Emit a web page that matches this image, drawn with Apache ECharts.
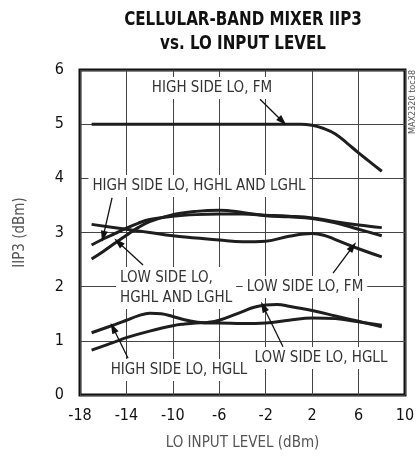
<!DOCTYPE html>
<html>
<head>
<meta charset="utf-8">
<script src="https://cdn.jsdelivr.net/npm/echarts@6/dist/echarts.min.js"></script>
<style>
  html, body { margin: 0; padding: 0; background: #fff; }
  #chart { width: 418px; height: 457px; }
</style>
</head>
<body>
<div id="chart"></div>
<script>
// LO input level (dBm) sample points and IIP3 (dBm) per curve
const highFmX   = [-17, -14, -10, -6, -2, 0, 1, 2, 3, 4, 5, 6, 7, 8];
const highFmY   = [5.0, 5.0, 5.0, 5.0, 5.0, 5.0, 5.0, 4.98, 4.92, 4.82, 4.65, 4.47, 4.3, 4.13];

const highHghlX = [-17, -16, -15, -14, -13, -12, -10, -8, -6, -4, -2, 0, 2, 4, 6, 8];
const highHghlY = [2.77, 2.88, 2.98, 3.08, 3.17, 3.24, 3.3, 3.33, 3.34, 3.34, 3.32, 3.3, 3.27, 3.2, 3.14, 3.09];

const lowHghlX  = [-17, -16, -15, -14, -13, -12, -10, -8, -6, -4, -2, 0, 2, 4, 6, 8];
const lowHghlY  = [2.51, 2.65, 2.8, 2.95, 3.09, 3.2, 3.33, 3.39, 3.41, 3.37, 3.31, 3.29, 3.26, 3.18, 3.06, 2.94];

const lowFmX    = [-17, -14, -12, -10, -8, -6, -4, -2, 0, 2, 3, 4, 6, 8];
const lowFmY    = [3.15, 3.06, 3.0, 2.94, 2.9, 2.86, 2.83, 2.84, 2.93, 2.98, 2.95, 2.87, 2.7, 2.55];

const highHgllX = [-17, -15, -14, -13, -12, -11, -10, -9, -8, -7, -6, -4, -2, 0, 2, 4, 6, 8];
const highHgllY = [1.15, 1.3, 1.38, 1.46, 1.51, 1.5, 1.45, 1.39, 1.35, 1.33, 1.33, 1.32, 1.33, 1.38, 1.42, 1.41, 1.35, 1.29];

const lowHgllX  = [-17, -15, -14, -12, -10, -9, -8, -7, -6, -4, -3, -2, -1, 0, 2, 4, 6, 8];
const lowHgllY  = [0.83, 0.98, 1.06, 1.18, 1.28, 1.31, 1.33, 1.34, 1.38, 1.54, 1.62, 1.66, 1.67, 1.64, 1.56, 1.46, 1.36, 1.26];

// axis tick labels
const xTicks = [-18, -14, -10, -6, -2, 2, 6, 10];
const yTicks = [0, 1, 2, 3, 4, 5, 6];

// callout arrows: [fromX, fromY, tipX, tipY] in axis units
const arrowHighFm   = [-2.49, 5.46, -0.55, 5.05];
const arrowHighHghl = [-15.24, 3.64, -16.0, 2.93];
const arrowLowHghl  = [-12.57, 2.40, -14.7, 2.82];
const arrowLowFm    = [3.80, 2.25, 5.5, 2.74];
const arrowHighHgll = [-13.86, 0.68, -15.15, 1.24];
const arrowLowHgll  = [-0.51, 0.89, -2.2, 1.63];

const FONT = '"Liberation Sans Narrow", "DejaVu Sans Condensed", "Liberation Sans", sans-serif';
const LINE = '#1e1e1e';

function pairs(xs, ys) { return xs.map((x, i) => [x, ys[i]]); }

function curve(name, xs, ys) {
  return {
    name: name, type: 'line', smooth: 0.4, showSymbol: false, symbol: 'none',
    data: pairs(xs, ys),
    lineStyle: { color: LINE, width: 3 },
    z: 3, silent: true
  };
}

const arrows = [arrowHighFm, arrowHighHghl, arrowLowHghl, arrowLowFm, arrowHighHgll, arrowLowHgll];

const chart = echarts.init(document.getElementById('chart'));

const series = [
  curve('HIGH SIDE LO, FM', highFmX, highFmY),
  curve('HIGH SIDE LO, HGHL AND LGHL', highHghlX, highHghlY),
  curve('LOW SIDE LO, HGHL AND LGHL', lowHghlX, lowHghlY),
  curve('LOW SIDE LO, FM', lowFmX, lowFmY),
  curve('HIGH SIDE LO, HGLL', highHgllX, highHgllY),
  curve('LOW SIDE LO, HGLL', lowHgllX, lowHgllY)
];

// arrows drawn as a mark line attached to an empty helper series
series.push({
  type: 'line', data: [], silent: true, z: 4,
  markLine: {
    silent: true, animation: false,
    symbol: ['none', 'triangle'], symbolSize: [7, 11],
    label: { show: false },
    lineStyle: { color: '#111', width: 1.3, type: 'solid' },
    data: arrows.map(a => [{ coord: [a[0], a[1]] }, { coord: [a[2], a[3]] }])
  }
});

chart.setOption({
  animation: false,
  backgroundColor: '#fff',
  grid: { left: 80, right: 13, top: 70, bottom: 62, show: true, borderColor: '#111', borderWidth: 3, z: 0 },
  xAxis: {
    type: 'value', min: -18, max: 10, interval: 4,
    name: 'LO INPUT LEVEL (dBm)', nameLocation: 'middle', nameGap: 41,
    nameTextStyle: { fontFamily: FONT, fontSize: 15, color: '#555' },
    axisLine: { show: false }, axisTick: { show: false },
    axisLabel: { fontFamily: FONT, fontSize: 16, color: '#111', margin: 13,
      formatter: v => xTicks.includes(v) ? String(v) : '' },
    splitLine: { show: true, lineStyle: { color: '#444', width: 1 } }
  },
  yAxis: {
    type: 'value', min: 0, max: 6, interval: 1,
    name: 'IIP3 (dBm)', nameLocation: 'middle', nameGap: 52,
    nameTextStyle: { fontFamily: FONT, fontSize: 15, color: '#555' },
    axisLine: { show: false }, axisTick: { show: false },
    axisLabel: { fontFamily: FONT, fontSize: 16, color: '#111', margin: 16,
      formatter: v => yTicks.includes(v) ? String(v) : '' },
    splitLine: { show: true, lineStyle: { color: '#444', width: 1 } }
  },
  series: series
});

// curve callouts, boxed in white so the grid is hidden behind them
function callout(text, x, y, align) {
  return {
    type: 'text', x: x, y: y, z: 1, silent: true,
    style: {
      text: text, fontFamily: FONT, fontSize: 15, lineHeight: 20, fill: '#333',
      align: align || 'center', verticalAlign: 'middle',
      backgroundColor: '#fff', padding: [1, 4, 1, 4]
    }
  };
}

// condensed bold heading
function heading(text, y) {
  return {
    type: 'text', x: 243, y: y, scaleX: 0.84, silent: true,
    style: {
      text: text, fontFamily: FONT, fontWeight: 'bold', fontSize: 20, fill: '#111',
      align: 'center', verticalAlign: 'middle'
    }
  };
}

chart.setOption({
  graphic: [
    heading('CELLULAR-BAND MIXER IIP3', 20),
    heading('vs. LO INPUT LEVEL', 44),
    callout('HIGH SIDE LO, FM', 212, 88),
    callout('HIGH SIDE LO, HGHL AND LGHL', 199, 186),
    callout('LOW SIDE LO,\nHGHL AND LGHL', 116, 288, 'left'),
    callout('LOW SIDE LO, FM', 305, 287),
    callout('HIGH SIDE LO, HGLL', 179, 370),
    callout('LOW SIDE LO, HGLL', 321, 358),
    {
      type: 'text', x: 413, y: 102, rotation: Math.PI / 2, silent: true,
      style: { text: 'MAX2320 toc38', fontFamily: FONT, fontSize: 9, fill: '#555',
        align: 'center', verticalAlign: 'middle' }
    }
  ]
});
</script>
</body>
</html>
